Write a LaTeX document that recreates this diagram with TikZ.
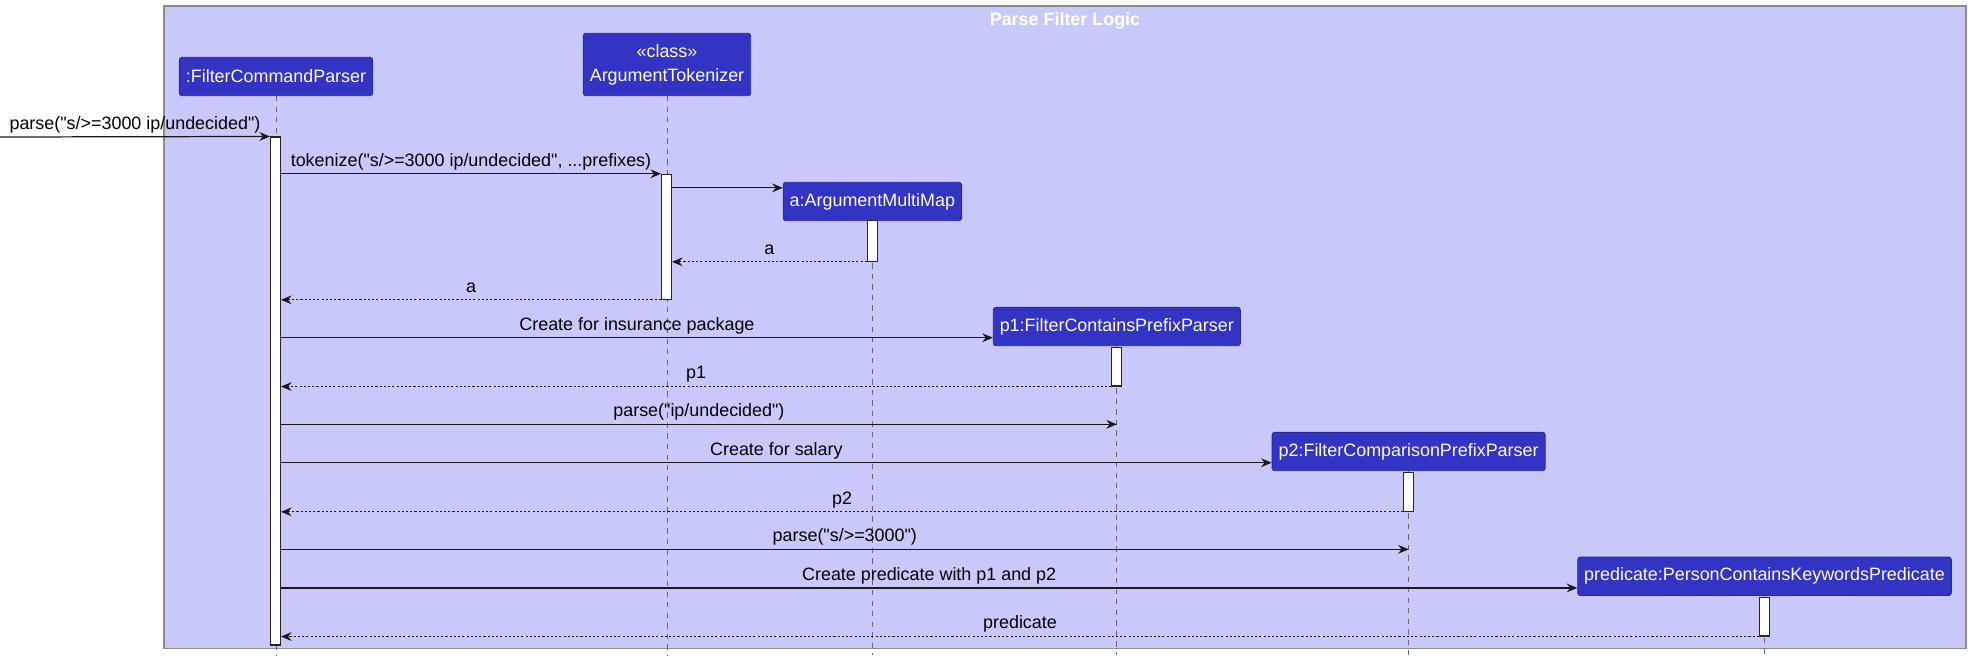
\documentclass[tikz,border=0pt]{standalone}
\usepackage{fontspec}
\setmainfont{Liberation Sans}[Ligatures=TeXOff]
\usepackage{tikz}
\usetikzlibrary{arrows.meta, positioning, fit}
\definecolor{logicblue}{HTML}{3333C4}
\definecolor{logicpale}{HTML}{C8C8FA}
\definecolor{framegrey}{HTML}{8C8C8C}
\tikzset{every node/.style={font=\fontsize{10.2}{12.3}\selectfont}}

\begin{document}
\begin{tikzpicture}[x=0.02cm, y=-0.02cm]
    % Define styles
    \tikzstyle{groupframe} = [rectangle, fill=logicpale, draw=framegrey, line width=0.7pt, inner sep=0pt]
    \tikzstyle{participant} = [rectangle, rounded corners=1.5pt, fill=logicblue, draw=logicblue!80!black, line width=0.5pt, text=white, inner xsep=0.13cm, minimum height=0.768cm, align=center]
    \tikzstyle{activation} = [rectangle, fill=white, draw=black!85, line width=0.6pt, inner xsep=0.1cm, inner ysep=0pt]
    \tikzstyle{lifeline} = [draw=black!60, line width=0.5pt, dash pattern=on 3pt off 3pt]
    \tikzstyle{msg} = [draw=black!90, line width=0.7pt, -{Stealth[length=6pt, width=5pt, inset=2pt]}]
    \tikzstyle{ret} = [msg, dash pattern=on 1.2pt off 1.2pt]
    \tikzstyle{msglabel} = [midway, anchor=base, yshift=0.152cm, inner sep=0pt, text=black]

    \useasboundingbox (0,0) rectangle (1971,660);

    % Group frame
    \node (frame) [groupframe, fit={(164,6) (1966,648.3)}] {};
    \node (title) [anchor=north, inner sep=0pt, text=white, font=\fontsize{10.2}{12.3}\selectfont\bfseries] at ([yshift=-0.14cm]frame.north) {Parse Filter Logic};

    % Participants
    \node (fcp) [participant] at (276, 76.5) {:FilterCommandParser};
    \node (tokenizer) [participant, minimum height=1.248cm, font=\fontsize{10.2}{13.7}\selectfont] at (667, 64.5) {«class»\\ArgumentTokenizer};
    \node (multimap) [participant] at (872.4, 201.5) {a:ArgumentMultiMap};
    \node (containsparser) [participant] at (1116.8, 326.5) {p1:FilterContainsPrefixParser};
    \node (comparisonparser) [participant] at (1408.6, 451.5) {p2:FilterComparisonPrefixParser};
    \node (predicate) [participant] at (1764.5, 576.3) {predicate:PersonContainsKeywordsPredicate};

    % Lifelines
    \coordinate (bottom) at (0, 655);
    \draw [lifeline] (fcp.south) -- (fcp.south |- bottom);
    \draw [lifeline] (tokenizer.south) -- (tokenizer.south |- bottom);
    \draw [lifeline] (multimap.south) -- (multimap.south |- bottom);
    \draw [lifeline] (containsparser.south) -- (containsparser.south |- bottom);
    \draw [lifeline] (comparisonparser.south) -- (comparisonparser.south |- bottom);
    \draw [lifeline] (predicate.south) -- (predicate.south |- bottom);

    % Activation bars
    \node (actfcp) [activation, fit={(275.5,137) (275.5,645)}] {};
    \node (acttok) [activation, fit={(666.5,174.3) (666.5,299.3)}] {};
    \node (actmap) [activation, fit={(872.4,220.7) (872.4,261.3)}] {};
    \node (actcontains) [activation, fit={(1116.8,347.3) (1116.8,386)}] {};
    \node (actcomparison) [activation, fit={(1408.8,472.3) (1408.8,511.3)}] {};
    \node (actpredicate) [activation, fit={(1764.5,597.3) (1764.5,636)}] {};

    % Entry points of create arrows and call levels
    \coordinate (caller) at (0, 137);
    \coordinate (mapin) at ([yshift=-0.12cm]multimap.north west);
    \coordinate (containsin) at ([yshift=0.168cm]containsparser.south west);
    \coordinate (comparisonin) at ([yshift=0.168cm]comparisonparser.south west);
    \coordinate (predicatein) at ([yshift=0.16cm]predicate.south west);
    \coordinate (parseip) at (0, 424.3);
    \coordinate (parsesalary) at (0, 549.3);

    % Messages
    \draw [msg] (caller) -- (actfcp.north west) node[msglabel] {parse("s/>=3000 ip/undecided")};
    \draw [msg] (actfcp.east |- acttok.north) -- (acttok.north west) node[msglabel] {tokenize("s/>=3000 ip/undecided", ...prefixes)};
    \draw [msg] (acttok.east |- mapin) -- (mapin);
    \draw [ret] (actmap.south west) -- (acttok.east |- actmap.south) node[msglabel] {a};
    \draw [ret] (acttok.south west) -- (actfcp.east |- acttok.south) node[msglabel] {a};
    \draw [msg] (actfcp.east |- containsin) -- (containsin) node[msglabel] {Create for insurance package};
    \draw [ret] (actcontains.south west) -- (actfcp.east |- actcontains.south) node[msglabel] {p1};
    \draw [msg] (actfcp.east |- parseip) -- (containsparser |- parseip) node[msglabel] {parse("ip/undecided")};
    \draw [msg] (actfcp.east |- comparisonin) -- (comparisonin) node[msglabel] {Create for salary};
    \draw [ret] (actcomparison.south west) -- (actfcp.east |- actcomparison.south) node[msglabel] {p2};
    \draw [msg] (actfcp.east |- parsesalary) -- (comparisonparser |- parsesalary) node[msglabel] {parse("s/>=3000")};
    \draw [msg] (actfcp.east |- predicatein) -- (predicatein) node[msglabel] {Create predicate with p1 and p2};
    \draw [ret] (actpredicate.south west) -- (actfcp.east |- actpredicate.south) node[msglabel] {predicate};
\end{tikzpicture}
\end{document}
